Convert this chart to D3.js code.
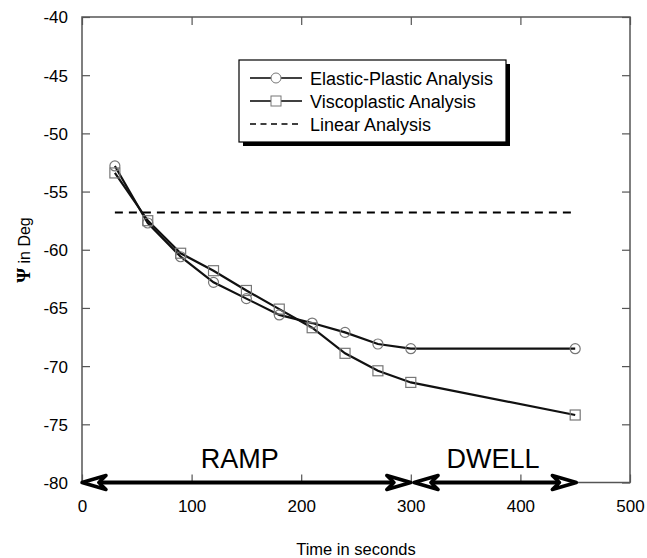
<!DOCTYPE html>
<html>
<head>
<meta charset="utf-8">
<script src="https://d3js.org/d3.v7.min.js"></script>
<style>
  body { margin: 0; background: #fff; }
  text { font-family: "Liberation Sans", Arial, sans-serif; }
</style>
</head>
<body>
<div id="chart"></div>
<script>
var width = 647,
    height = 558;

// data
var times = [30, 60, 90, 120, 150, 180, 210, 240, 270, 300, 450];
var elastic = [-52.8, -57.7, -60.6, -62.8, -64.2, -65.6, -66.3, -67.1, -68.1, -68.5, -68.5];
var visco = [-53.4, -57.5, -60.3, -61.8, -63.5, -65.1, -66.7, -68.9, -70.4, -71.4, -74.2];
var linearX = [30, 450];
var linearY = [-56.8, -56.8];
var xTicks = [0, 100, 200, 300, 400, 500];
var yTicks = [-40, -45, -50, -55, -60, -65, -70, -75, -80];
var phases = [
  {name: "RAMP", from: 0, to: 300, label: 144},
  {name: "DWELL", from: 303, to: 451, label: 375}
];

var svg = d3.select("#chart")
    .append("svg")
    .attr("width", width)
    .attr("height", height);

var x = d3.scaleLinear().domain([0, 500]).range([82, 630]);
var y = d3.scaleLinear().domain([-80, -40]).range([482.5, 17]);

var frameColor = "#555";

// frame
svg.append("rect")
    .attr("x", x(0)).attr("y", y(-40))
    .attr("width", x(500) - x(0)).attr("height", y(-80) - y(-40))
    .attr("fill", "none")
    .attr("stroke", frameColor)
    .attr("stroke-width", 1.5);

// inward ticks, plain hyphen minus like the original
var fmt = function(d) { return String(d); };
var axL = svg.append("g").attr("transform", "translate(" + x(0) + ",0)")
    .call(d3.axisLeft(y).tickValues(yTicks).tickSize(-8).tickPadding(14).tickFormat(fmt));
var axR = svg.append("g").attr("transform", "translate(" + x(500) + ",0)")
    .call(d3.axisRight(y).tickValues(yTicks).tickSize(-8).tickFormat(""));
var axB = svg.append("g").attr("transform", "translate(0," + y(-80) + ")")
    .call(d3.axisBottom(x).tickValues(xTicks).tickSize(-8).tickPadding(17).tickFormat(fmt));
var axT = svg.append("g").attr("transform", "translate(0," + y(-40) + ")")
    .call(d3.axisTop(x).tickValues(xTicks).tickSize(-8).tickFormat(""));

[axL, axR, axB, axT].forEach(function(a) {
  a.select(".domain").remove();
  a.selectAll("line").attr("stroke", frameColor).attr("stroke-width", 1.2);
  a.selectAll("text")
    .attr("fill", "#000")
    .style("font-family", "Liberation Sans, Arial, sans-serif")
    .style("font-size", "17px");
});
axL.selectAll("text").attr("dy", "0.35em");

// axis titles
svg.append("text")
    .attr("x", 356).attr("y", 555)
    .attr("text-anchor", "middle")
    .style("font-size", "16.5px")
    .text("Time in seconds");

var yt = svg.append("text")
    .attr("transform", "translate(30,250) rotate(-90)")
    .attr("text-anchor", "middle")
    .style("font-size", "16px");
yt.append("tspan")
    .style("font-family", "Liberation Serif, Times New Roman, serif")
    .style("font-size", "19px")
    .style("font-weight", "bold")
    .text("Ψ");
yt.append("tspan").text(" in Deg");

var line = d3.line()
    .x(function(d) { return x(d[0]); })
    .y(function(d) { return y(d[1]); });

// linear analysis
svg.append("path")
    .attr("d", line(d3.zip(linearX, linearY)))
    .attr("stroke", "#000")
    .attr("stroke-width", 2)
    .attr("stroke-dasharray", "8,6")
    .attr("fill", "none");

// series lines
svg.append("path")
    .attr("d", line(d3.zip(times, elastic)))
    .attr("stroke", "#111")
    .attr("stroke-width", 2.2)
    .attr("fill", "none");
svg.append("path")
    .attr("d", line(d3.zip(times, visco)))
    .attr("stroke", "#111")
    .attr("stroke-width", 2.2)
    .attr("fill", "none");

var markColor = "#777";

svg.selectAll(".circ")
    .data(d3.zip(times, elastic))
    .enter().append("circle")
    .attr("cx", function(d) { return x(d[0]); })
    .attr("cy", function(d) { return y(d[1]); })
    .attr("r", 5)
    .attr("fill", "none")
    .attr("stroke", markColor)
    .attr("stroke-width", 1.2);

svg.selectAll(".sq")
    .data(d3.zip(times, visco))
    .enter().append("rect")
    .attr("x", function(d) { return x(d[0]) - 5; })
    .attr("y", function(d) { return y(d[1]) - 5; })
    .attr("width", 10).attr("height", 10)
    .attr("fill", "none")
    .attr("stroke", markColor)
    .attr("stroke-width", 1.2);

// RAMP / DWELL double arrows
function arrowHead(tipX, yy, dir) {
  var len = 24, half = 7;
  var pts = [[tipX, yy], [tipX + dir * len, yy - half], [tipX + dir * len * 0.7, yy], [tipX + dir * len, yy + half]];
  svg.append("path")
    .attr("d", "M" + pts.join("L") + "Z")
    .attr("fill", "#fff")
    .attr("stroke", "#000")
    .attr("stroke-width", 3.5)
    .attr("stroke-linejoin", "round");
}

phases.forEach(function(p) {
  var yy = y(-80);
  svg.append("line")
    .attr("x1", x(p.from) + 16).attr("x2", x(p.to) - 16)
    .attr("y1", yy).attr("y2", yy)
    .attr("stroke", "#000")
    .attr("stroke-width", 4);
  arrowHead(x(p.from), yy, 1);
  arrowHead(x(p.to), yy, -1);
  svg.append("text")
    .attr("x", x(p.label)).attr("y", 468)
    .attr("text-anchor", "middle")
    .style("font-size", "27px")
    .text(p.name);
});

// legend
var lg = svg.append("g").attr("transform", "translate(239,60)");
lg.append("rect")
    .attr("x", 4).attr("y", 4).attr("width", 267).attr("height", 82)
    .attr("fill", "#000");
lg.append("rect")
    .attr("x", 0).attr("y", 0).attr("width", 267).attr("height", 82)
    .attr("fill", "#fff")
    .attr("stroke", "#000")
    .attr("stroke-width", 1.2);

var entries = ["Elastic-Plastic Analysis", "Viscoplastic Analysis", "Linear Analysis"];
entries.forEach(function(name, i) {
  var ry = 18 + i * 23;
  var l = lg.append("line")
    .attr("x1", 11).attr("x2", 63)
    .attr("y1", ry).attr("y2", ry)
    .attr("stroke", "#000")
    .attr("stroke-width", 1.5);
  if (i == 2) l.attr("stroke-dasharray", "6,4.5");
  if (i == 0) lg.append("circle").attr("cx", 37).attr("cy", ry).attr("r", 5)
      .attr("fill", "#fff").attr("stroke", markColor);
  if (i == 1) lg.append("rect").attr("x", 32).attr("y", ry - 5).attr("width", 10).attr("height", 10)
      .attr("fill", "#fff").attr("stroke", markColor);
  lg.append("text")
    .attr("x", 71).attr("y", ry + 6.5)
    .style("font-size", "18px")
    .text(name);
});
</script>
</body>
</html>
